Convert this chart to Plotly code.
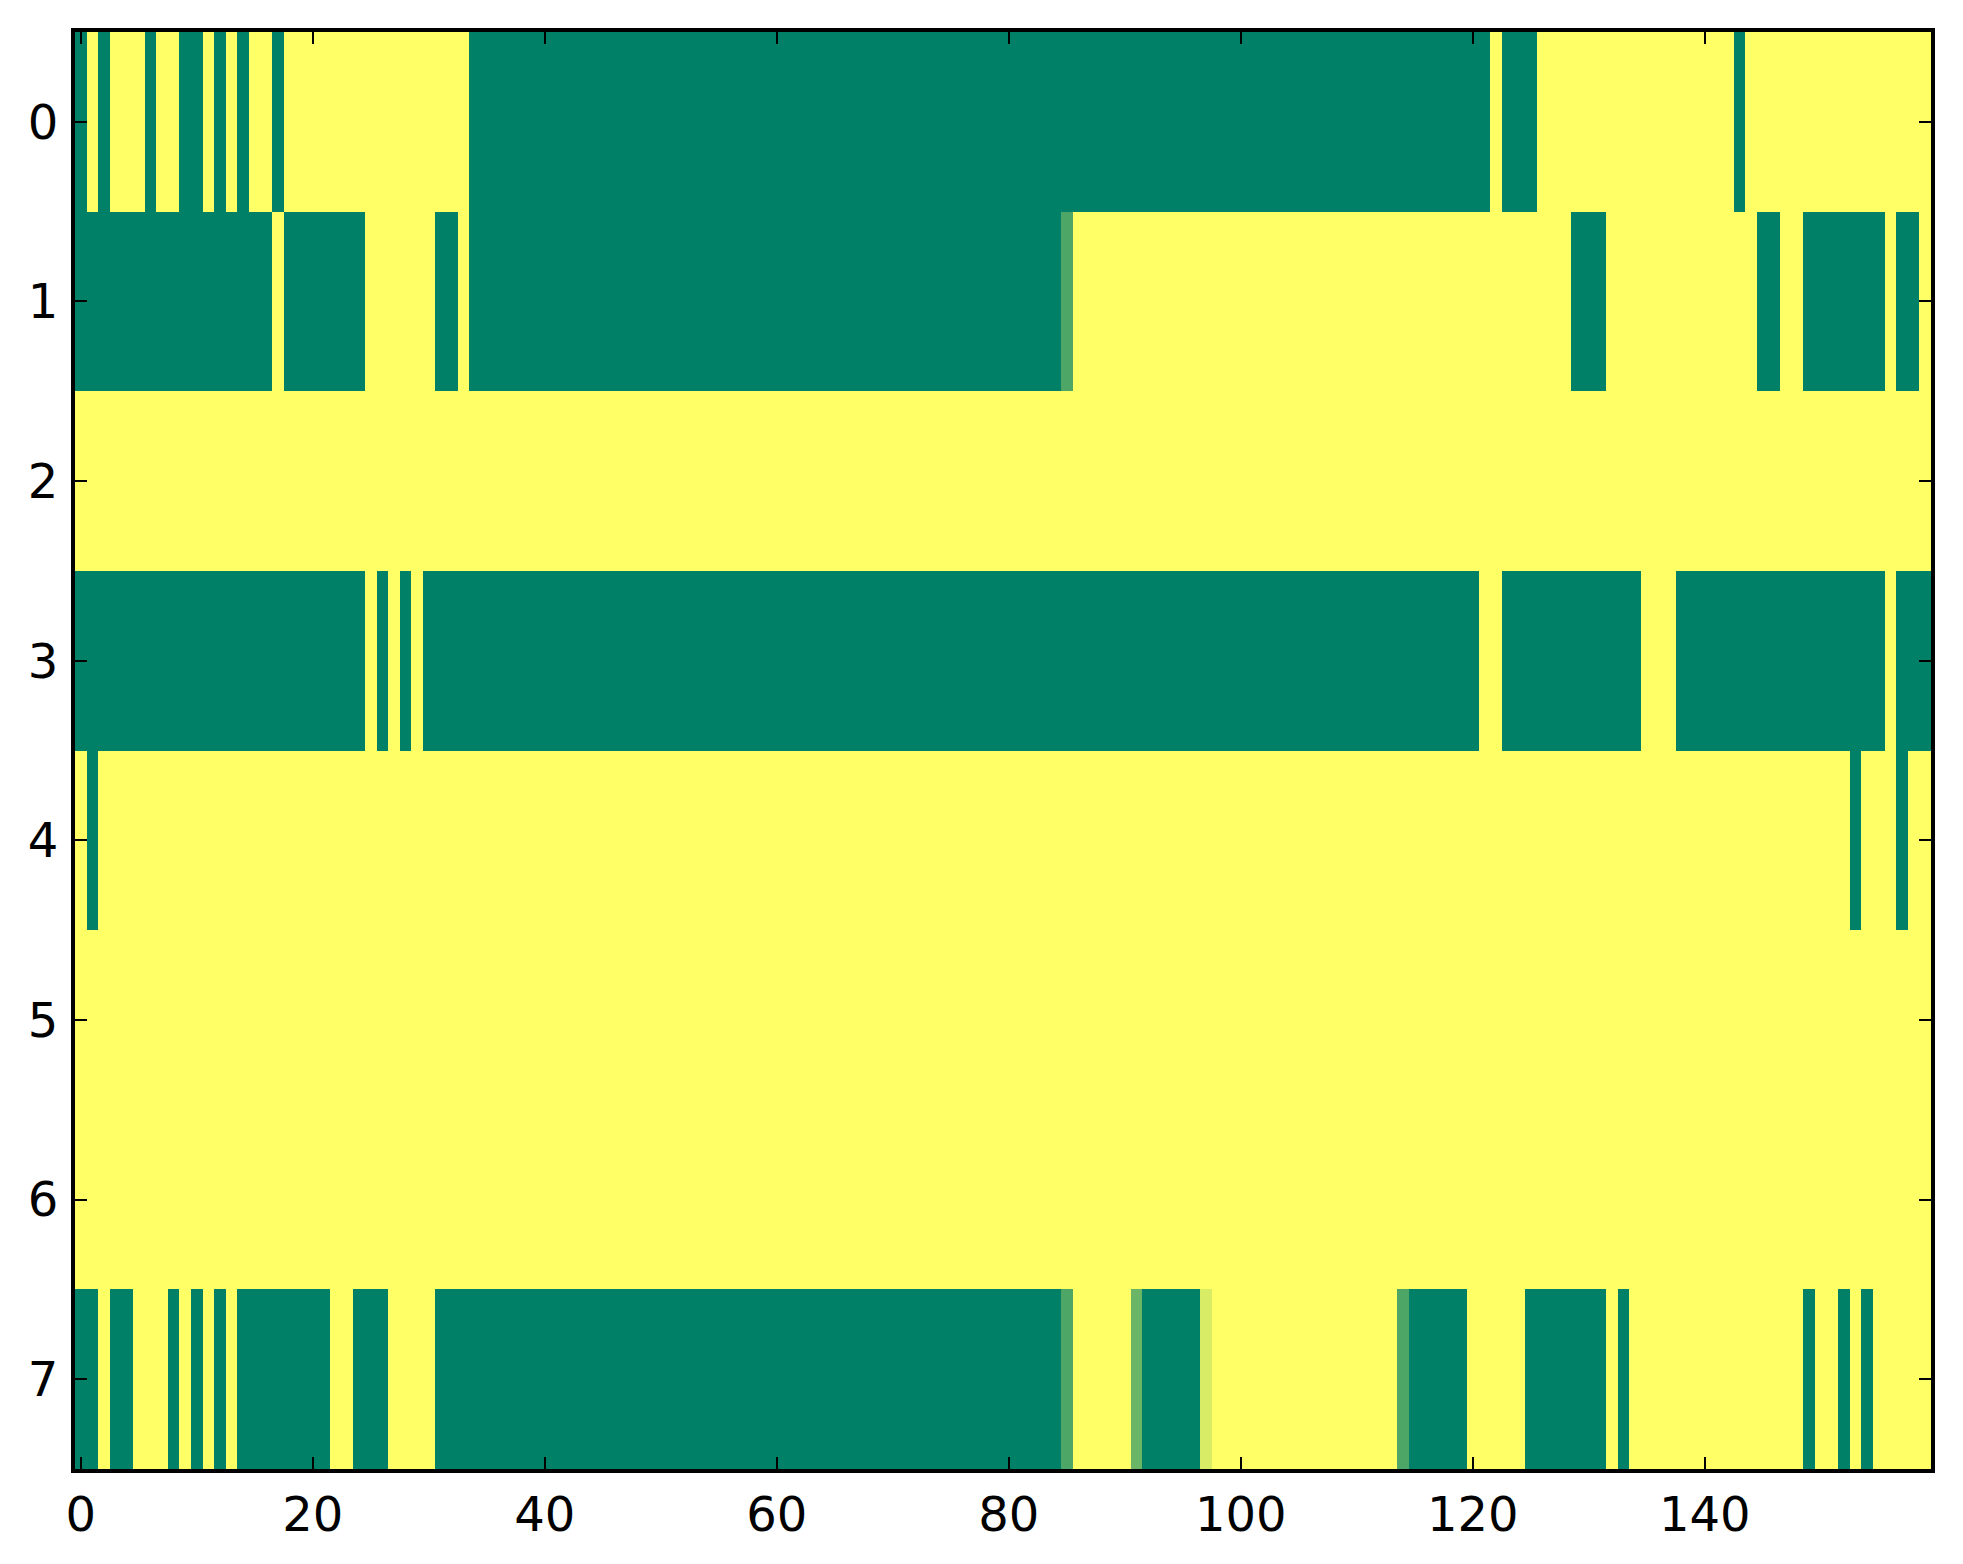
import plotly.graph_objects as go

# 每行用 (数值, 连续列数) 记录，读图所得；0 = 深绿, 1 = 黄
row0_runs = [(0, 1), (1, 1), (0, 1), (1, 3), (0, 1), (1, 2), (0, 2), (1, 1), (0, 1), (1, 1),
             (0, 1), (1, 2), (0, 1), (1, 16), (0, 88), (1, 1), (0, 3), (1, 17), (0, 1), (1, 16)]
row1_runs = [(0, 17), (1, 1), (0, 7), (1, 6), (0, 2), (1, 1), (0, 51), (0.3, 1), (1, 43),
             (0, 3), (1, 13), (0, 2), (1, 2), (0, 7), (1, 1), (0, 2), (1, 1)]
row2_runs = [(1, 160)]
row3_runs = [(0, 25), (1, 1), (0, 1), (1, 1), (0, 1), (1, 1), (0, 91), (1, 2), (0, 12),
             (1, 3), (0, 18), (1, 1), (0, 3)]
row4_runs = [(1, 1), (0, 1), (1, 151), (0, 1), (1, 3), (0, 1), (1, 2)]
row5_runs = [(1, 160)]
row6_runs = [(1, 160)]
row7_runs = [(0, 2), (1, 1), (0, 2), (1, 3), (0, 1), (1, 1), (0, 1), (1, 1), (0, 1), (1, 1),
             (0, 8), (1, 2), (0, 3), (1, 4), (0, 54), (0.3, 1), (1, 5), (0.42, 1), (0, 5),
             (0.85, 1), (1, 16), (0.3, 1), (0, 5), (1, 5), (0, 7), (1, 1), (0, 1), (1, 15),
             (0, 1), (1, 2), (0, 1), (1, 1), (0, 1), (1, 5)]

all_runs = [row0_runs, row1_runs, row2_runs, row3_runs,
            row4_runs, row5_runs, row6_runs, row7_runs]

x_ticks = [0, 20, 40, 60, 80, 100, 120, 140]
y_ticks = [0, 1, 2, 3, 4, 5, 6, 7]


def expand(runs):
    out = []
    for v, n in runs:
        out += [v] * n
    return out


z = [expand(r) for r in all_runs]
n_cols = len(z[0])

# summer 色图
summer = [[0.0, "#008066"], [1.0, "#ffff66"]]

fig = go.Figure(go.Heatmap(
    z=z,
    x=list(range(n_cols)),
    y=y_ticks,
    colorscale=summer,
    zmin=0, zmax=1,
    showscale=False,
))

axis_style = dict(
    showgrid=False, zeroline=False,
    showline=True, linecolor="black", linewidth=4, mirror="ticks",
    ticks="inside", ticklen=12, tickwidth=2, tickcolor="black",
    tickfont=dict(family="DejaVu Sans", size=48, color="black"),
)

fig.update_xaxes(range=[-0.5, n_cols - 0.5], tickvals=x_ticks,
                 ticklabelstandoff=0, **axis_style)
fig.update_yaxes(range=[7.5, -0.5], tickvals=y_ticks,
                 ticklabelstandoff=3, **axis_style)

fig.update_layout(
    width=1963, height=1564,
    margin=dict(l=67, r=40, t=24, b=103),
    paper_bgcolor="white", plot_bgcolor="white",
)

fig.write_html("out.html")
